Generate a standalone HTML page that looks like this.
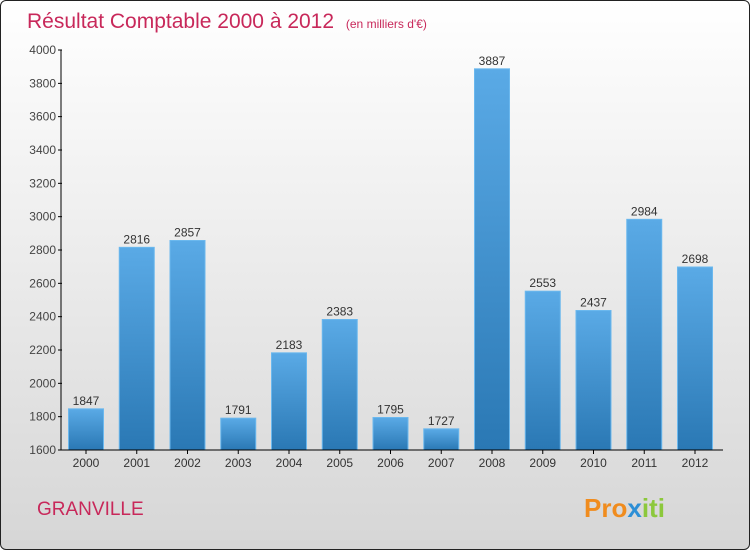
<!DOCTYPE html>
<html><head><meta charset="utf-8"><style>
body{margin:0;}
#wrap{position:relative;width:748px;height:548px;border:1px solid #222;border-radius:6px;overflow:hidden;background:linear-gradient(#ffffff,#d6d6d6);font-family:"Liberation Sans",sans-serif;}
</style></head><body>
<div id="wrap">
<svg id="chart" width="748" height="548">
<defs><linearGradient id="bg" x1="0" y1="0" x2="0" y2="1"><stop offset="0" stop-color="#5aaae6"/><stop offset="1" stop-color="#2a78b4"/></linearGradient></defs>
<text x="26" y="27" font-size="21" fill="#c8285a">Résultat Comptable 2000 à 2012 <tspan font-size="12" dx="6">(en milliers d'€)</tspan></text>
<text x="36" y="514" font-size="19" fill="#c8285a">GRANVILLE</text>
<text x="583" y="516" font-size="26" font-weight="bold"><tspan fill="#f08c1e">Pro</tspan><tspan fill="#2d8fd6">x</tspan><tspan fill="#8cc83c">iti</tspan></text>
<g id="plot"></g>
</svg></div>
<script>
const years=["2000","2001","2002","2003","2004","2005","2006","2007","2008","2009","2010","2011","2012"];
const values=[1847,2816,2857,1791,2183,2383,1795,1727,3887,2553,2437,2984,2698];
const ticks=[1600,1800,2000,2200,2400,2600,2800,3000,3200,3400,3600,3800,4000];
const NS="http://www.w3.org/2000/svg";
const g=document.getElementById('plot');
const y=v=>449-(v-1600)/2400*400;
const x=i=>85+i*50.75;
function mk(t,a){const e=document.createElementNS(NS,t);for(const k in a)e.setAttribute(k,a[k]);g.appendChild(e);return e;}
ticks.forEach(t=>{
 const l=mk('line',{x1:57,x2:61,y1:y(t),y2:y(t),stroke:'#000'});
 
 
 const tx=mk('text',{x:55,y:y(t)+4,'font-size':12,'text-anchor':'end',fill:'#444'});tx.textContent=t;
 
 
});
values.forEach((v,i)=>{
 const r=mk('rect',{x:x(i)-17.5,y:y(v),width:35,height:y(1600)-y(v),fill:'url(#bg)',stroke:'#6bb8ee','stroke-width':1});
 
 
 const t=mk('text',{x:x(i),y:y(v)-4,'font-size':12,'text-anchor':'middle',fill:'#333'});t.textContent=v;
 
 
 const tk=mk('line',{x1:x(i),x2:x(i),y1:449,y2:453,stroke:'#000'});
 
 
 const xl=mk('text',{x:x(i),y:466,'font-size':12,'text-anchor':'middle',fill:'#333'});xl.textContent=years[i];
 
 
});
const ya=mk('line',{x1:60,x2:60,y1:49,y2:449,stroke:'#000'});


const xa=mk('line',{x1:60,x2:722,y1:449,y2:449,stroke:'#000'});


</script>
</body></html>
